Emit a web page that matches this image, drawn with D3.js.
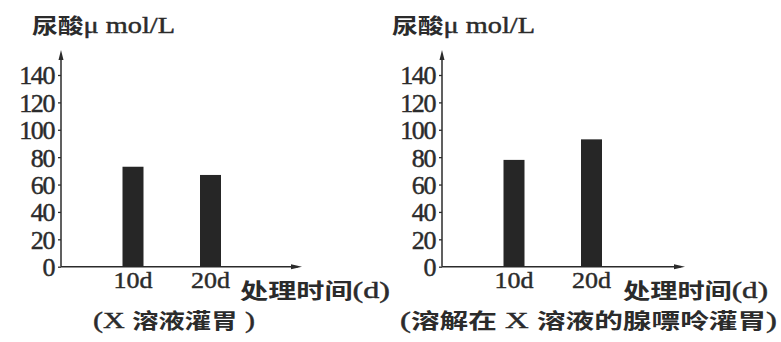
<!DOCTYPE html>
<html>
<head>
<meta charset="utf-8">
<script src="https://cdn.jsdelivr.net/npm/d3@7"></script>
<style>
  html, body { margin: 0; padding: 0; background: #fff; }
  svg { display: block; }
  .num { font-family: "Liberation Serif", "DejaVu Serif", serif; fill: #2b2b2b; stroke: #2b2b2b; stroke-width: 0.45px; }
  .cjk { font-family: "Noto Sans CJK SC", sans-serif; font-weight: 700; fill: #2b2b2b; }
  .ser { font-family: "Liberation Serif", "DejaVu Serif", serif; font-weight: 400; stroke: #2b2b2b; stroke-width: 0.45px; }
</style>
</head>
<body>
<svg id="chart" width="781" height="342"></svg>
<script>
// Uric acid level after each treatment period, two feeding groups
const categories = ["10d", "20d"];
const xGroupValues = [73, 67];          // X 溶液灌胃
const adenineGroupValues = [78, 93];    // 溶解在 X 溶液的腺嘌呤灌胃
const yTickValues = [0, 20, 40, 60, 80, 100, 120, 140];
const yTitle = ["尿酸", "μ mol/L"];
const xTitle = ["处理时间", "(d)"];
// caption pieces: [text, isSerif]
const captions = [
  [["(X ", true], ["溶液灌胃", false], [" )", true]],
  [["(", true], ["溶解在", false], [" X ", true], ["溶液的腺嘌呤灌胃", false], [")", true]]
];

const svg = d3.select("#chart");
const ink = "#2b2b2b";

const panels = [
  { axisX: 61,  axisEnd: 302, values: xGroupValues,       caption: captions[0],
    titleX: 32,  xTitleX: 240, xTitleW: 150, capX: 93,  capW: 162 },
  { axisX: 442, axisEnd: 685, values: adenineGroupValues, caption: captions[1],
    titleX: 392, xTitleX: 623, xTitleW: 145, capX: 400, capW: 377 }
];

const y = d3.scaleLinear().domain([0, 140]).range([266.7, 75]);

panels.forEach(p => {
  const g = svg.append("g");

  // y axis with outward ticks
  const yAxis = d3.axisLeft(y).tickValues(yTickValues).tickSize(3).tickPadding(4);
  const ay = g.append("g").attr("transform", `translate(${p.axisX},0)`).call(yAxis);
  ay.select(".domain").remove();
  ay.selectAll(".tick line").attr("stroke", ink).attr("stroke-width", 1.3);
  ay.selectAll(".tick text")
    .attr("class", "num")
    .attr("font-size", 26)
    .attr("letter-spacing", -1.4)
    .attr("dy", "0.34em")
    .attr("fill", ink);

  // axis lines with arrowheads
  g.append("line").attr("x1", p.axisX).attr("x2", p.axisX)
    .attr("y1", y(0)).attr("y2", 54).attr("stroke", ink).attr("stroke-width", 1.5);
  g.append("path")
    .attr("d", `M${p.axisX},50 L${p.axisX - 2.5},60 L${p.axisX + 2.5},60 Z`)
    .attr("fill", ink);
  g.append("line").attr("x1", p.axisX).attr("x2", p.axisEnd - 4)
    .attr("y1", y(0)).attr("y2", y(0)).attr("stroke", ink).attr("stroke-width", 1.5);
  g.append("path")
    .attr("d", `M${p.axisEnd},${y(0)} L${p.axisEnd - 11},${y(0) - 2.5} L${p.axisEnd - 11},${y(0) + 2.5} Z`)
    .attr("fill", ink);

  // category positions
  const x = d3.scalePoint().domain(categories).range([p.axisX + 72, p.axisX + 149.5]);
  const barW = 21;

  g.selectAll("rect.bar").data(p.values).join("rect")
    .attr("class", "bar")
    .attr("x", (d, i) => x(categories[i]) - barW / 2)
    .attr("width", barW)
    .attr("y", d => y(d))
    .attr("height", d => y(0) - y(d))
    .attr("fill", "#262626");

  // category labels
  g.selectAll("text.cat").data(categories).join("text")
    .attr("class", "num cat")
    .attr("x", d => x(d))
    .attr("y", 288)
    .attr("text-anchor", "middle")
    .attr("font-size", 24)
    .attr("textLength", 39)
    .attr("lengthAdjust", "spacingAndGlyphs")
    .text(d => d);

  // x axis title
  const xt = g.append("text")
    .attr("x", p.xTitleX).attr("y", 298)
    .attr("textLength", p.xTitleW)
    .attr("lengthAdjust", "spacingAndGlyphs");
  xt.append("tspan").attr("class", "cjk").attr("font-size", 21).text(xTitle[0]);
  xt.append("tspan").attr("class", "ser").attr("font-size", 24).attr("fill", ink).text(xTitle[1]);

  // y axis title
  const t = g.append("text")
    .attr("x", p.titleX).attr("y", 33)
    .attr("textLength", 143)
    .attr("lengthAdjust", "spacingAndGlyphs");
  t.append("tspan").attr("class", "cjk").attr("font-size", 21).text(yTitle[0]);
  t.append("tspan").attr("class", "ser").attr("font-size", 23).attr("fill", ink).text(yTitle[1]);

  // group caption
  const c = g.append("text")
    .attr("x", p.capX).attr("y", 328)
    .attr("textLength", p.capW)
    .attr("lengthAdjust", "spacingAndGlyphs");
  p.caption.forEach(([s, serif]) => {
    c.append("tspan")
      .attr("class", serif ? "ser" : "cjk")
      .attr("font-size", serif ? 24 : 21)
      .attr("fill", ink)
      .text(s);
  });
});
</script>
</body>
</html>
